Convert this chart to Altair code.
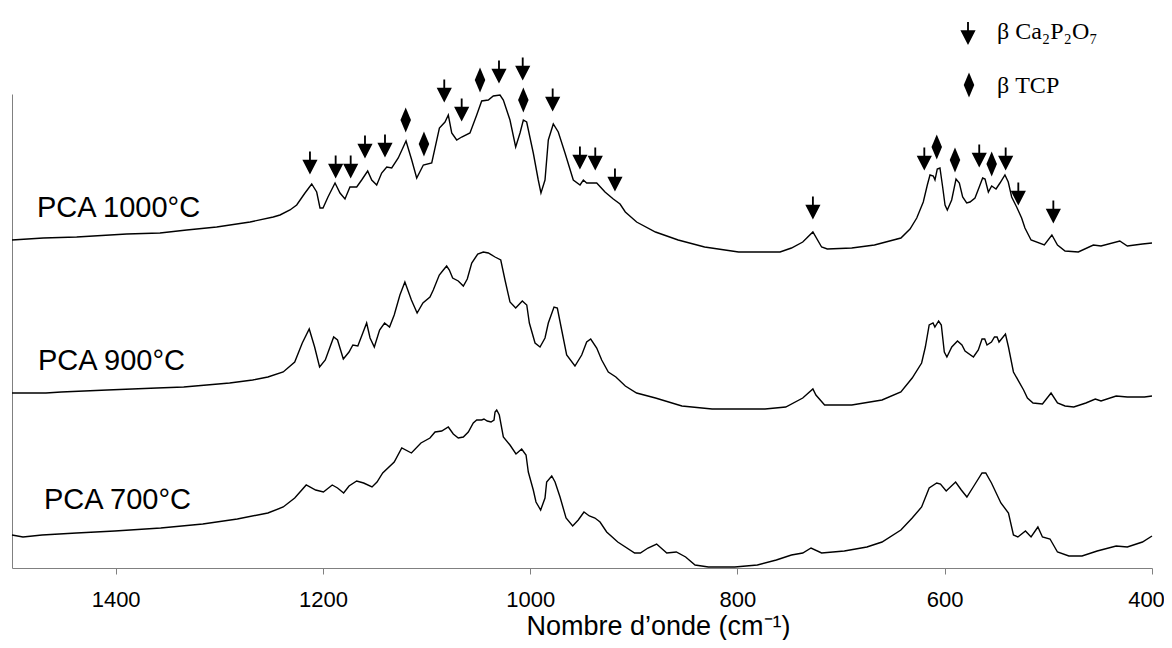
import altair as alt
import pandas as pd

# ---- spectra (wavenumber cm-1, absorbance a.u., curves offset vertically) ----
wn_1000 = [1500, 1469.8, 1437.6, 1389.3, 1357.2, 1331.4, 1302.5, 1270.3, 1247.9, 1241.4,
           1231.8, 1225.3, 1217.3, 1210.8, 1206.0, 1202.8, 1199.9, 1195.1, 1188.3, 1183.5,
           1178.7, 1173.9, 1167.4, 1162.6, 1156.8, 1152.9, 1148.1, 1143.3, 1138.4, 1133.6,
           1127.3, 1119.8, 1114.3, 1109.5, 1103.1, 1095.0, 1087.6, 1082.2, 1079.0, 1075.7,
           1070.9, 1066.1, 1058.1, 1051.6, 1046.8, 1040.4, 1035.6, 1029.1, 1025.9, 1019.5,
           1014.0, 1009.8, 1006.6, 1003.4, 997.0, 992.2, 989.6, 985.7, 982.5, 977.7,
           972.9, 966.4, 958.4, 951.9, 948.7, 945.5, 935.8, 927.8, 919.8, 913.3,
           908.2, 897.3, 879.1, 857.2, 831.7, 798.9, 758.9, 747.9, 737.0, 727.2,
           718.8, 713.3, 689.7, 667.8, 642.3, 633.5, 627.0, 620.7, 616.8, 614.2,
           611.0, 609.4, 607.2, 604.6, 602.0, 599.7, 597.5, 593.3, 589.1, 585.9,
           582.7, 578.8, 575.6, 570.8, 566.7, 563.4, 561.1, 557.9, 554.7, 550.5,
           546.7, 541.9, 538.7, 535.4, 530.6, 525.8, 522.6, 516.7, 503.9, 496.6,
           491.2, 483.9, 471.1, 456.6, 449.2, 431.1, 423.8, 409.2, 400]
int_1000 = [3.28, 3.30, 3.31, 3.34, 3.35, 3.38, 3.41, 3.46, 3.51, 3.53,
            3.58, 3.63, 3.75, 3.84, 3.76, 3.60, 3.60, 3.71, 3.85, 3.75,
            3.69, 3.81, 3.81, 3.88, 3.97, 3.88, 3.83, 3.95, 4.01, 4.00,
            4.10, 4.27, 4.08, 3.90, 4.03, 4.05, 4.40, 4.46, 4.53, 4.35,
            4.28, 4.31, 4.35, 4.53, 4.67, 4.68, 4.72, 4.73, 4.68, 4.48,
            4.21, 4.35, 4.48, 4.46, 4.15, 3.88, 3.75, 3.88, 4.28, 4.44,
            4.36, 4.15, 3.88, 3.83, 3.88, 3.85, 3.85, 3.76, 3.69, 3.64,
            3.56, 3.46, 3.36, 3.28, 3.21, 3.16, 3.16, 3.20, 3.26, 3.36,
            3.21, 3.19, 3.20, 3.23, 3.30, 3.39, 3.50, 3.66, 3.83, 3.93,
            3.92, 3.88, 3.99, 4.00, 3.81, 3.63, 3.58, 3.68, 3.89, 3.85,
            3.71, 3.65, 3.66, 3.70, 3.81, 3.90, 3.89, 3.76, 3.82, 3.79,
            3.85, 3.93, 3.86, 3.71, 3.61, 3.50, 3.40, 3.28, 3.23, 3.33,
            3.23, 3.17, 3.16, 3.23, 3.22, 3.27, 3.22, 3.24, 3.25]

wn_900 = [1500, 1467.3, 1452.5, 1408.1, 1360.2, 1334.3, 1312.1, 1290.0, 1267.8, 1253.1,
          1238.3, 1227.2, 1219.9, 1213.2, 1208.0, 1203.2, 1197.7, 1189.6, 1185.9, 1180.3,
          1174.8, 1171.1, 1166.3, 1161.5, 1157.8, 1154.5, 1150.4, 1145.3, 1140.5, 1135.7,
          1131.2, 1125.7, 1120.9, 1114.6, 1109.1, 1103.5, 1096.7, 1093.5, 1087.7, 1083.8,
          1080.6, 1078.0, 1074.8, 1069.4, 1064.5, 1060.7, 1056.4, 1050.6, 1045.2, 1040.4,
          1033.9, 1028.4, 1024.3, 1019.5, 1014.0, 1007.6, 1003.3, 1000.8, 995.3, 990.5,
          985.7, 982.5, 977.0, 973.8, 969.6, 964.8, 956.8, 950.3, 945.5, 941.6,
          935.8, 931.0, 924.6, 917.3, 908.2, 897.3, 879.1, 853.6, 824.5, 773.4,
          753.4, 737.0, 727.2, 724.3, 715.9, 689.7, 660.5, 642.3, 631.4, 622.3,
          618.7, 615.0, 611.3, 609.5, 605.9, 603.3, 600.4, 597.9, 593.2, 587.7,
          583.4, 580.4, 572.3, 567.6, 564.0, 561.4, 559.2, 554.9, 552.0, 549.5,
          547.6, 541.4, 538.5, 533.7, 523.9, 520.2, 514.8, 505.7, 497.4, 491.2,
          483.9, 475.5, 463.8, 454.7, 449.2, 434.6, 423.8, 407.3, 400]
int_900 = [1.75, 1.75, 1.76, 1.78, 1.80, 1.81, 1.83, 1.85, 1.88, 1.91,
           1.96, 2.06, 2.25, 2.39, 2.21, 2.01, 2.08, 2.31, 2.28, 2.09,
           2.16, 2.23, 2.22, 2.35, 2.45, 2.30, 2.21, 2.38, 2.45, 2.41,
           2.53, 2.73, 2.86, 2.68, 2.55, 2.65, 2.71, 2.78, 2.93, 2.98,
           3.02, 2.98, 2.90, 2.87, 2.82, 2.89, 3.05, 3.14, 3.16, 3.15,
           3.11, 3.08, 2.88, 2.66, 2.60, 2.67, 2.63, 2.45, 2.25, 2.21,
           2.30, 2.45, 2.61, 2.60, 2.38, 2.13, 2.02, 2.13, 2.26, 2.29,
           2.20, 2.08, 1.96, 1.91, 1.82, 1.75, 1.70, 1.62, 1.59, 1.59,
           1.61, 1.70, 1.79, 1.73, 1.63, 1.63, 1.68, 1.76, 1.90, 2.05,
           2.21, 2.43, 2.45, 2.41, 2.47, 2.43, 2.16, 2.11, 2.21, 2.27,
           2.23, 2.17, 2.11, 2.18, 2.29, 2.29, 2.23, 2.26, 2.31, 2.31,
           2.26, 2.34, 2.21, 1.96, 1.78, 1.70, 1.65, 1.64, 1.75, 1.65,
           1.62, 1.61, 1.65, 1.69, 1.67, 1.72, 1.71, 1.71, 1.72]

wn_700 = [1500, 1489.4, 1471.0, 1437.8, 1400.8, 1356.5, 1315.9, 1282.6, 1253.1, 1238.3,
          1227.2, 1216.1, 1207.0, 1199.5, 1191.0, 1185.9, 1180.0, 1174.8, 1167.4, 1160.7,
          1152.6, 1147.8, 1142.3, 1131.2, 1123.9, 1114.6, 1105.4, 1096.7, 1091.8, 1085.4,
          1079.0, 1074.2, 1069.4, 1064.5, 1059.7, 1054.9, 1051.6, 1046.8, 1044.6, 1041.4,
          1037.8, 1034.9, 1033.9, 1032.3, 1029.8, 1025.9, 1019.5, 1013.7, 1008.2, 1004.0,
          1001.8, 997.0, 994.4, 989.9, 985.7, 984.1, 979.2, 976.0, 971.2, 965.4,
          959.0, 953.6, 948.1, 942.9, 937.5, 932.6, 926.2, 915.5, 899.2, 893.7,
          886.3, 878.0, 868.2, 859.0, 850.0, 840.9, 828.0, 802.6, 780.8, 762.5,
          747.9, 737.0, 729.0, 718.8, 696.9, 675.1, 660.5, 642.3, 631.4, 622.3,
          615.0, 607.7, 604.1, 598.6, 589.5, 584.0, 578.6, 571.3, 564.0, 560.4,
          554.9, 545.8, 538.5, 533.7, 529.4, 522.1, 516.7, 510.1, 505.7, 498.4,
          491.2, 480.2, 467.5, 452.9, 434.6, 423.8, 409.2, 400]
int_700 = [0.33, 0.31, 0.33, 0.35, 0.37, 0.40, 0.44, 0.49, 0.55, 0.61,
           0.70, 0.83, 0.78, 0.76, 0.83, 0.80, 0.75, 0.82, 0.87, 0.85,
           0.81, 0.86, 0.95, 1.06, 1.20, 1.15, 1.25, 1.30, 1.36, 1.37,
           1.41, 1.34, 1.30, 1.31, 1.36, 1.45, 1.48, 1.48, 1.49, 1.47,
           1.46, 1.48, 1.56, 1.58, 1.53, 1.31, 1.23, 1.14, 1.19, 1.13,
           0.96, 0.78, 0.66, 0.58, 0.70, 0.86, 0.92, 0.86, 0.71, 0.50,
           0.42, 0.48, 0.56, 0.52, 0.50, 0.46, 0.36, 0.26, 0.15, 0.15,
           0.20, 0.24, 0.15, 0.16, 0.11, 0.03, 0.01, 0.01, 0.03, 0.08,
           0.13, 0.15, 0.20, 0.15, 0.17, 0.21, 0.26, 0.38, 0.50, 0.61,
           0.80, 0.85, 0.84, 0.77, 0.86, 0.78, 0.71, 0.83, 0.95, 0.95,
           0.85, 0.65, 0.55, 0.33, 0.31, 0.37, 0.31, 0.41, 0.31, 0.29,
           0.16, 0.12, 0.12, 0.17, 0.22, 0.21, 0.26, 0.32]

# ---- band markers ----
arrow_wn = [1212.5, 1187.7, 1173.2, 1159.4, 1140.1, 1082.9, 1066.1, 1030.1, 1007.2, 978.3,
            952.0, 937.2, 918.2, 727.2, 619.7, 566.7, 541.2, 529.0, 495.2]
arrow_y = [4.05, 4.01, 4.01, 4.21, 4.22, 4.77, 4.58, 4.96, 4.99, 4.68,
           4.10, 4.09, 3.88, 3.60, 4.09, 4.12, 4.09, 3.74, 3.56]
diamond_wn = [1120.1, 1102.5, 1048.4, 1006.6, 607.7, 590.1, 554.7]
diamond_y = [4.48, 4.24, 4.88, 4.68, 4.21, 4.08, 4.04]

# ---- sample labels ----
label_text = ["PCA 1000°C", "PCA 900°C", "PCA 700°C"]
label_wn = [1475.9, 1474.9, 1469.1]
label_y = [3.51, 1.98, 0.59]

legend_text = ["β Ca₂P₂O₇", "β TCP"]

ARROW = "M-0.08,-1 L0.08,-1 L0.08,-0.29 L0.66,-0.29 L0,1 L-0.66,-0.29 L-0.08,-0.29 Z"
DIAMOND = "M0,-1 L0.42,0 L0,1 L-0.42,0 Z"

curves = pd.concat([
    pd.DataFrame({"wn": wn_1000, "a": int_1000, "s": "1000"}),
    pd.DataFrame({"wn": wn_900, "a": int_900, "s": "900"}),
    pd.DataFrame({"wn": wn_700, "a": int_700, "s": "700"}),
], ignore_index=True)
arrows = pd.DataFrame({"wn": arrow_wn, "a": arrow_y})
diamonds = pd.DataFrame({"wn": diamond_wn, "a": diamond_y})
labels = pd.DataFrame({"wn": label_wn, "a": label_y, "t": label_text})

xs = alt.Scale(domain=[400, 1500], reverse=True, nice=False, zero=False)
ys = alt.Scale(domain=[0, 4.74], nice=False, zero=False)

x_axis = alt.Axis(values=[1400, 1200, 1000, 800, 600, 400], format="d", grid=False,
                  title="Nombre d’onde (cm⁻¹)",
                  domainColor="#808080", tickColor="#808080", tickSize=6,
                  labelFont="Liberation Sans", labelFontSize=22, labelColor="black",
                  labelPadding=15, labelFlush=False, labelOverlap=False,
                  labelOffset={"condition": {"test": "datum.value === 400", "value": -6},
                               "value": 0},
                  titleFont="Liberation Sans", titleFontSize=27, titleFontWeight="normal",
                  titleColor="black", titleX=646, titleY=66, titleAlign="center",
                  titleBaseline="alphabetic")
y_axis = alt.Axis(title=None, labels=False, ticks=False, grid=False, domainColor="#808080")

lines = alt.Chart(curves).mark_line(color="black", strokeWidth=1.4).encode(
    x=alt.X("wn:Q", scale=xs, axis=x_axis),
    y=alt.Y("a:Q", scale=ys, axis=y_axis),
    detail="s:N",
)

arrow_marks = alt.Chart(arrows).mark_point(shape=ARROW, filled=True, color="black",
                                            opacity=1, size=529, strokeWidth=0).encode(
    x=alt.X("wn:Q", scale=xs), y=alt.Y("a:Q", scale=ys))
diamond_marks = alt.Chart(diamonds).mark_point(shape=DIAMOND, filled=True, color="black",
                                                opacity=1, size=625, strokeWidth=0).encode(
    x=alt.X("wn:Q", scale=xs), y=alt.Y("a:Q", scale=ys))

label_marks = alt.Chart(labels).mark_text(align="left", baseline="alphabetic",
                                          font="Liberation Sans", fontSize=29,
                                          color="black").encode(
    x=alt.X("wn:Q", scale=xs), y=alt.Y("a:Q", scale=ys), text="t:N")

one = pd.DataFrame({"k": [0]})
leg_arrow = alt.Chart(one).mark_point(shape=ARROW, filled=True, color="black", opacity=1,
                                      size=529, strokeWidth=0).encode(
    x=alt.value(956), y=alt.value(-60.5))
leg_diamond = alt.Chart(one).mark_point(shape=DIAMOND, filled=True, color="black", opacity=1,
                                        size=625, strokeWidth=0).encode(
    x=alt.value(957), y=alt.value(-9))
leg_t1 = alt.Chart(pd.DataFrame({"t": [legend_text[0]]})).mark_text(
    align="left", baseline="alphabetic", font="Liberation Serif", fontSize=24,
    color="black").encode(x=alt.value(985), y=alt.value(-55), text="t:N")
leg_t2 = alt.Chart(pd.DataFrame({"t": [legend_text[1]]})).mark_text(
    align="left", baseline="alphabetic", font="Liberation Serif", fontSize=24,
    color="black").encode(x=alt.value(985), y=alt.value(-1), text="t:N")

chart = alt.layer(lines, arrow_marks, diamond_marks, label_marks,
                  leg_arrow, leg_diamond, leg_t1, leg_t2).properties(
    width=1140, height=474,
    padding={"left": 4, "top": 86, "right": 12, "bottom": 72},
    autosize=alt.AutoSizeParams(type="none"),
).configure_view(stroke=None)

chart.save("out.html", embed_options={"renderer": "svg", "actions": False})
